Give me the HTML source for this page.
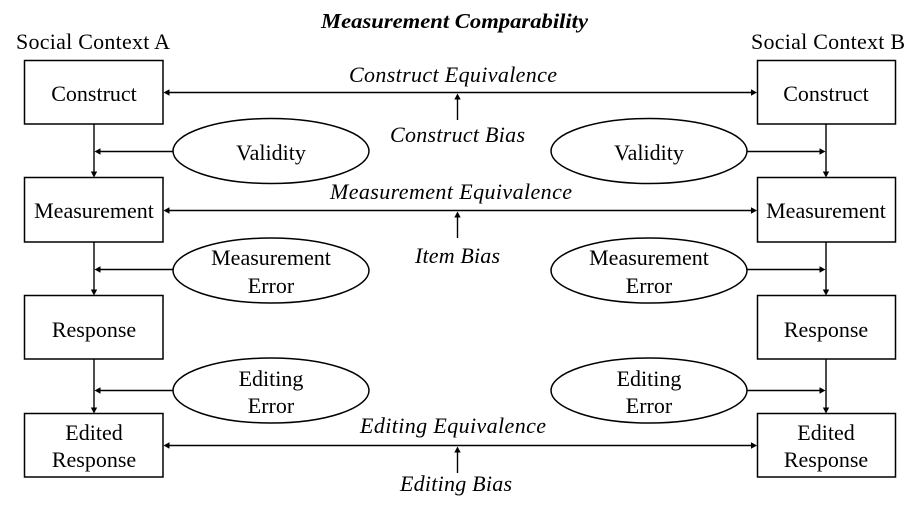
<!DOCTYPE html>
<html>
<head>
<meta charset="utf-8">
<style>
  html, body { margin: 0; padding: 0; background: #fff; }
  svg { display: block; }
  text { font-family: "Liberation Serif", "DejaVu Serif", serif; fill: #000; }
  .r { font-size: 22px; }
  .i { font-size: 22px; font-style: italic; }
  .t { font-size: 21px; font-style: italic; font-weight: bold; }
</style>
</head>
<body>
<svg width="914" height="514" viewBox="0 0 914 514" xmlns="http://www.w3.org/2000/svg">
  <rect x="0" y="0" width="914" height="514" fill="#fff"/>

  <!-- Title -->
  <text class="t" x="321" y="28" textLength="267" lengthAdjust="spacingAndGlyphs">Measurement Comparability</text>
  <text class="r" x="16" y="49" textLength="154" lengthAdjust="spacing">Social Context A</text>
  <text class="r" x="751" y="49" textLength="154" lengthAdjust="spacing">Social Context B</text>

  <g fill="none" stroke="#000" stroke-width="1.5">
    <!-- Left boxes -->
    <rect x="24.5" y="60.5" width="138.5" height="63.5"/>
    <rect x="24.5" y="177.5" width="138.5" height="64.5"/>
    <rect x="24.5" y="295.5" width="138.5" height="63.5"/>
    <rect x="24.5" y="413.5" width="138.5" height="63.5"/>
    <!-- Right boxes -->
    <rect x="757.5" y="60.5" width="138" height="63.5"/>
    <rect x="757.5" y="177.5" width="138" height="64.5"/>
    <rect x="757.5" y="295.5" width="138" height="63.5"/>
    <rect x="757.5" y="413.5" width="138" height="63.5"/>

    <!-- Ellipses -->
    <ellipse cx="271" cy="151" rx="98" ry="32.5"/>
    <ellipse cx="271" cy="270.5" rx="98" ry="32.5"/>
    <ellipse cx="271" cy="390.5" rx="98" ry="32.5"/>
    <ellipse cx="649" cy="151" rx="98" ry="32.5"/>
    <ellipse cx="649" cy="270.5" rx="98" ry="32.5"/>
    <ellipse cx="649" cy="390.5" rx="98" ry="32.5"/>
  </g>

  <g fill="none" stroke="#000" stroke-width="1.4">
    <!-- Equivalence lines -->
    <line x1="168" y1="92.5" x2="752" y2="92.5"/>
    <line x1="168" y1="210.5" x2="752" y2="210.5"/>
    <line x1="168" y1="445.5" x2="752" y2="445.5"/>
    <!-- Bias arrows -->
    <line x1="457.5" y1="120" x2="457.5" y2="98"/>
    <line x1="457.5" y1="238" x2="457.5" y2="216"/>
    <line x1="457.5" y1="473" x2="457.5" y2="451"/>
    <!-- Left verticals -->
    <line x1="94" y1="124" x2="94" y2="172"/>
    <line x1="94" y1="242" x2="94" y2="290"/>
    <line x1="94" y1="359" x2="94" y2="408"/>
    <!-- Right verticals -->
    <line x1="826" y1="124" x2="826" y2="172"/>
    <line x1="826" y1="242" x2="826" y2="290"/>
    <line x1="826" y1="359" x2="826" y2="408"/>
    <!-- Ellipse to vertical arrows -->
    <line x1="173" y1="151.5" x2="99" y2="151.5"/>
    <line x1="173" y1="269.5" x2="99" y2="269.5"/>
    <line x1="173" y1="390.5" x2="99" y2="390.5"/>
    <line x1="747" y1="151.5" x2="821" y2="151.5"/>
    <line x1="747" y1="269.5" x2="821" y2="269.5"/>
    <line x1="747" y1="390.5" x2="821" y2="390.5"/>
  </g>

  <g fill="#000" stroke="none">
    <!-- Equivalence arrowheads -->
    <polygon points="163.5,92.5 169.5,89.3 169.5,95.7"/>
    <polygon points="757,92.5 751,89.3 751,95.7"/>
    <polygon points="163.5,210.5 169.5,207.3 169.5,213.7"/>
    <polygon points="757,210.5 751,207.3 751,213.7"/>
    <polygon points="163.5,445.5 169.5,442.3 169.5,448.7"/>
    <polygon points="757,445.5 751,442.3 751,448.7"/>
    <!-- Bias arrowheads -->
    <polygon points="457.5,93.5 454.3,99.5 460.7,99.5"/>
    <polygon points="457.5,211.5 454.3,217.5 460.7,217.5"/>
    <polygon points="457.5,446.5 454.3,452.5 460.7,452.5"/>
    <!-- Vertical arrowheads left -->
    <polygon points="94,177.5 90.8,171.5 97.2,171.5"/>
    <polygon points="94,295.5 90.8,289.5 97.2,289.5"/>
    <polygon points="94,413.5 90.8,407.5 97.2,407.5"/>
    <!-- Vertical arrowheads right -->
    <polygon points="826,177.5 822.8,171.5 829.2,171.5"/>
    <polygon points="826,295.5 822.8,289.5 829.2,289.5"/>
    <polygon points="826,413.5 822.8,407.5 829.2,407.5"/>
    <!-- Ellipse arrowheads left -->
    <polygon points="94.5,151.5 100.5,148.3 100.5,154.7"/>
    <polygon points="94.5,269.5 100.5,266.3 100.5,272.7"/>
    <polygon points="94.5,390.5 100.5,387.3 100.5,393.7"/>
    <!-- Ellipse arrowheads right -->
    <polygon points="825.5,151.5 819.5,148.3 819.5,154.7"/>
    <polygon points="825.5,269.5 819.5,266.3 819.5,272.7"/>
    <polygon points="825.5,390.5 819.5,387.3 819.5,393.7"/>
  </g>

  <!-- Box labels -->
  <g text-anchor="middle">
    <text class="r" x="94" y="101">Construct</text>
    <text class="r" x="94" y="218">Measurement</text>
    <text class="r" x="94" y="337">Response</text>
    <text class="r" x="94" y="440">Edited</text>
    <text class="r" x="94" y="467">Response</text>

    <text class="r" x="826" y="101">Construct</text>
    <text class="r" x="826" y="218">Measurement</text>
    <text class="r" x="826" y="337">Response</text>
    <text class="r" x="826" y="440">Edited</text>
    <text class="r" x="826" y="467">Response</text>

    <!-- Ellipse labels -->
    <text class="r" x="271" y="160">Validity</text>
    <text class="r" x="271" y="265">Measurement</text>
    <text class="r" x="271" y="293">Error</text>
    <text class="r" x="271" y="386">Editing</text>
    <text class="r" x="271" y="413">Error</text>

    <text class="r" x="649" y="160">Validity</text>
    <text class="r" x="649" y="265">Measurement</text>
    <text class="r" x="649" y="293">Error</text>
    <text class="r" x="649" y="386">Editing</text>
    <text class="r" x="649" y="413">Error</text>
  </g>

  <!-- Italic labels -->
  <text class="i" x="349" y="82" textLength="208" lengthAdjust="spacing">Construct Equivalence</text>
  <text class="i" x="390" y="142" textLength="135" lengthAdjust="spacing">Construct Bias</text>
  <text class="i" x="330" y="199" textLength="242" lengthAdjust="spacing">Measurement Equivalence</text>
  <text class="i" x="415" y="263" textLength="85" lengthAdjust="spacing">Item Bias</text>
  <text class="i" x="360" y="433" textLength="186" lengthAdjust="spacing">Editing Equivalence</text>
  <text class="i" x="400" y="491" textLength="112" lengthAdjust="spacing">Editing Bias</text>
</svg>
</body>
</html>
